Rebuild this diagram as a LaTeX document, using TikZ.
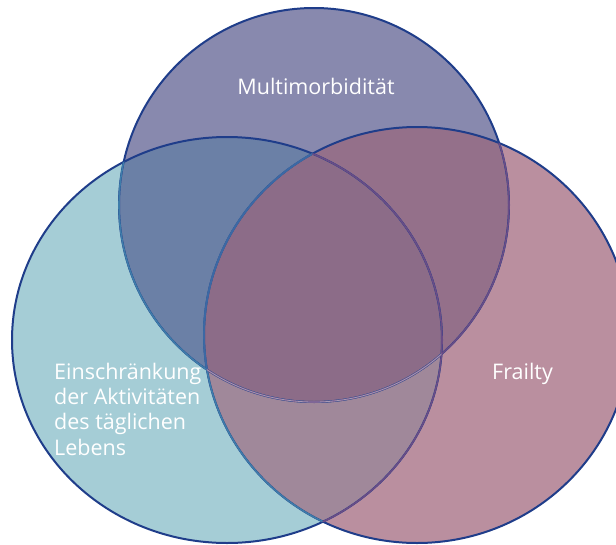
\documentclass[tikz,border=0pt]{standalone}
\usepackage{fontspec}
\setmainfont{Open Sans}
\usepackage{tikz}
\definecolor{randBlau}{HTML}{1F3D8A}
\definecolor{multiFarbe}{HTML}{8889AE}
\definecolor{adlFarbe}{HTML}{A5CDD6}
\definecolor{frailFarbe}{HTML}{BA8F9F}
\definecolor{multiAdl}{HTML}{6B80A6}
\definecolor{multiFrail}{HTML}{94708A}
\definecolor{adlFrail}{HTML}{A0889A}
\definecolor{mitteFarbe}{HTML}{8C6C88}
\definecolor{linieAdl}{HTML}{3E7DAA}
\definecolor{linieFrail}{HTML}{6A4C86}
\definecolor{linieMitte}{HTML}{3C68A4}
\definecolor{linieHell}{HTML}{A898B4}

% Kreise (Pixelmass)
\def\kreisMulti{(314,205) ellipse [x radius=195, y radius=197]}
\def\kreisAdl{(227,340) ellipse [x radius=215, y radius=203]}
\def\kreisFrail{(417,335) ellipse [x radius=213, y radius=208]}

\begin{document}
\begin{tikzpicture}[x=1pt, y=-1pt,
    rand/.style={draw=randBlau, line width=2pt},
    innen/.style={line width=1.6pt},
    beschriftung/.style={text=white, inner sep=0pt,
                         font=\fontsize{21.5}{25.3}\selectfont}
  ]
  \clip (0,0) rectangle (616,544);

  % Grundflaechen
  \fill[adlFarbe] \kreisAdl;
  \fill[frailFarbe] \kreisFrail;
  \fill[multiFarbe] \kreisMulti;

  % Ueberschneidungen
  \begin{scope}
    \clip \kreisMulti;
    \fill[multiAdl] \kreisAdl;
    \fill[multiFrail] \kreisFrail;
  \end{scope}
  \begin{scope}
    \clip \kreisAdl;
    \fill[adlFrail] \kreisFrail;
    \clip \kreisMulti;
    \fill[mitteFarbe] \kreisFrail;
  \end{scope}

  % Umrisse
  \draw[rand] \kreisMulti;
  \draw[rand] \kreisAdl;
  \draw[rand] \kreisFrail;
  \begin{scope}
    \clip \kreisAdl;
    \draw[innen, linieAdl] \kreisMulti;
    \draw[innen, linieAdl] \kreisFrail;
    \clip \kreisMulti;
    \draw[innen, linieMitte] \kreisFrail;
  \end{scope}
  \begin{scope}
    \clip \kreisFrail;
    \draw[innen, linieFrail] \kreisMulti;
    \draw[innen, linieFrail] \kreisAdl;
    \clip \kreisAdl;
    \draw[line width=0.8pt, linieHell] \kreisMulti;
  \end{scope}

  % Beschriftungen
  \node[beschriftung, anchor=base] (titelMulti) at (316,94) {Multimorbidität};
  \node[beschriftung, anchor=base west, align=left] (titelAdl) at (54,455)
    {Einschränkung\\ der Aktivitäten\\ des täglichen\\ Lebens};
  \node[beschriftung, anchor=base west] (titelFrail) at (492,379) {Frailty};
\end{tikzpicture}
\end{document}
